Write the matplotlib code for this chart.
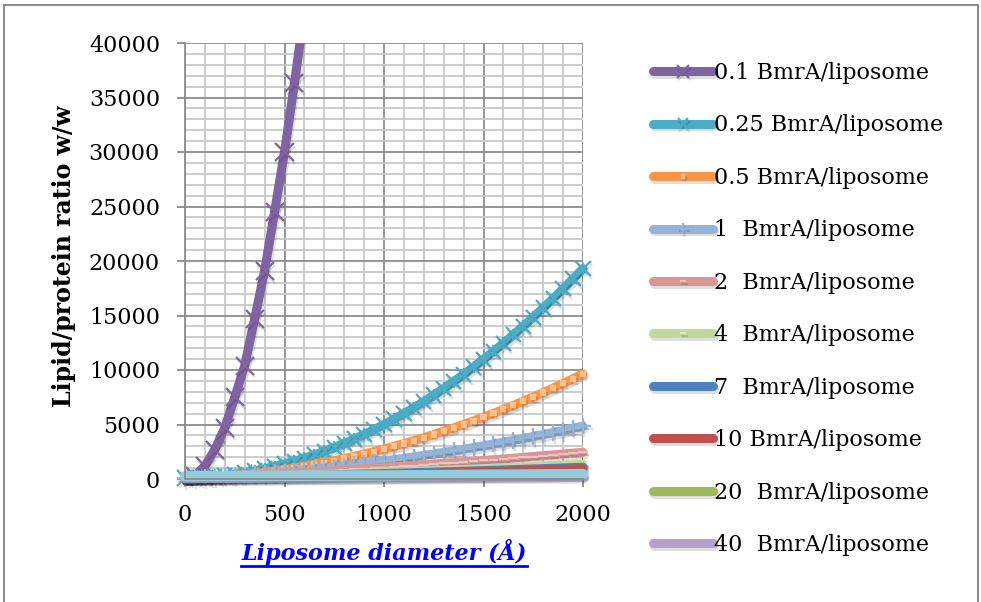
import matplotlib
matplotlib.use("Agg")
import matplotlib.pyplot as plt
import matplotlib.patheffects as pe
from matplotlib.lines import Line2D
from matplotlib.patches import Rectangle
from matplotlib.ticker import MultipleLocator

# Data
diameter = [0, 50, 100, 150, 200, 250, 300, 350, 400, 450, 500, 550, 600, 650, 700,
            750, 800, 850, 900, 950, 1000, 1050, 1100, 1150, 1200, 1250, 1300, 1350,
            1400, 1450, 1500, 1550, 1600, 1650, 1700, 1750, 1800, 1850, 1900, 1950, 2000]
diameter_short = [0, 50, 100, 150, 200, 250, 300, 350, 400, 450, 500, 550, 600]
diameter_coarse = [0, 250, 500, 750, 1000, 1250, 1500, 1750, 2000]

ratio_01 = [0, 300, 1200, 2700, 4700, 7500, 10400, 14700, 19100, 24500, 30000, 36300, 43000]
ratio_025 = [100, 122, 167, 236, 328, 444, 583, 746, 932, 1142, 1375, 1632, 1912, 2216,
             2543, 2894, 3268, 3666, 4087, 4532, 5000, 5492, 6007, 6546, 7108, 7694, 8303,
             8936, 9592, 10272, 10975, 11702, 12452, 13226, 14023, 14844, 15688, 16556,
             17447, 18362, 19300]
ratio_05 = [50, 85, 131, 187, 254, 331, 419, 517, 626, 745, 875, 1015, 1166, 1327, 1499,
            1681, 1874, 2077, 2291, 2515, 2750, 2995, 3251, 3517, 3794, 4081, 4379, 4687,
            5006, 5335, 5675, 6025, 6386, 6757, 7139, 7531, 7934, 8347, 8771, 9205, 9650]
ratio_1 = [50, 92, 138, 188, 242, 300, 362, 428, 498, 572, 650, 732, 818, 908, 1002,
           1100, 1202, 1308, 1418, 1532, 1650, 1772, 1898, 2028, 2162, 2300, 2442, 2588,
           2738, 2892, 3050, 3212, 3378, 3548, 3722, 3900, 4082, 4268, 4458, 4652, 4850]
ratio_2 = [50, 91, 132, 175, 218, 263, 308, 355, 402, 451, 500, 551, 602, 655, 708,
           763, 818, 875, 932, 991, 1050, 1111, 1172, 1235, 1298, 1363, 1428, 1495,
           1562, 1631, 1700, 1771, 1842, 1915, 1988, 2063, 2138, 2215, 2292, 2371, 2450]
ratio_4 = [50, 73, 96, 120, 144, 169, 194, 220, 246, 273, 300, 328, 356, 385, 414,
           444, 474, 505, 536, 568, 600, 633, 666, 700, 734, 769, 804, 840, 876, 913,
           950, 988, 1026, 1065, 1104, 1144, 1184, 1225, 1266, 1308, 1350]
ratio_7 = [50, 150, 260, 380, 500, 630, 770, 920, 1080]
ratio_10 = [40, 120, 210, 310, 410, 520, 640, 780, 930]
ratio_20 = [30, 70, 115, 160, 210, 260, 310, 360, 410]
ratio_40 = [20, 45, 75, 105, 140, 170, 200, 230, 260]
ratio_hidden = [250, 270, 290, 310, 330, 360, 390, 420, 450]

labels = ["0.1 BmrA/liposome", "0.25 BmrA/liposome", "0.5 BmrA/liposome",
          "1  BmrA/liposome", "2  BmrA/liposome", "4  BmrA/liposome",
          "7  BmrA/liposome", "10 BmrA/liposome", "20  BmrA/liposome",
          "40  BmrA/liposome"]

FONT = "DejaVu Serif"
FS = 16

fig = plt.figure(figsize=(9.81, 6.02), dpi=100)
ax = fig.add_axes([185 / 981, 1 - 479 / 602, 398 / 981, 436 / 602])

shadow = [pe.SimpleLineShadow(offset=(1, -2), alpha=0.13, shadow_color="k"), pe.Normal()]
LW = 6.5

# (x, y, color, marker, marker color, marker size)
series = [
    (diameter_short, ratio_01, "#8064A2", "x", "#8064A2", 13),
    (diameter, ratio_025, "#4BACC6", "x", "#4BACC6", 11),
    (diameter, ratio_05, "#F79646", "s", "#FAC090", 3),
    (diameter, ratio_1, "#95B3D7", "+", "#95B3D7", 12),
    (diameter, ratio_2, "#D99694", "_", "#EBC3C2", 7),
    (diameter, ratio_4, "#C3D69B", "_", "#DDEAC4", 7),
    (diameter_coarse, ratio_7, "#4F81BD", "None", "#4F81BD", 0),
    (diameter_coarse, ratio_10, "#C0504D", "None", "#C0504D", 0),
    (diameter_coarse, ratio_20, "#9BBB59", "None", "#C3D69B", 0),
    (diameter_coarse, ratio_40, "#B3A2C7", "None", "#B3A2C7", 0),
]

handles = []
for i, ((xs, ys, col, mk, mcol, ms), lab) in enumerate(zip(series, labels)):
    line, = ax.plot(xs, ys, color=col, lw=LW, marker=mk, markersize=ms,
                    markeredgecolor=mcol, markerfacecolor=mcol, markeredgewidth=1.6,
                    solid_capstyle="round", solid_joinstyle="round",
                    path_effects=shadow, label=lab, clip_on=(i == 0))
    handles.append(line)
    if lab.startswith("0.25"):
        # star marker = cross plus a short vertical bar
        ax.plot(xs, ys, ls="None", marker="|", markersize=8, markeredgewidth=1.6,
                color=col, clip_on=False)

ax.plot(diameter_coarse, ratio_hidden, color="#93CDDD", lw=LW + 1,
        solid_capstyle="round", path_effects=shadow, clip_on=False)

ax.set_xlim(0, 2000)
ax.set_ylim(0, 40000)
ax.xaxis.set_major_locator(MultipleLocator(500))
ax.xaxis.set_minor_locator(MultipleLocator(100))
ax.yaxis.set_major_locator(MultipleLocator(5000))
ax.yaxis.set_minor_locator(MultipleLocator(1000))
ax.grid(which="minor", color="#c8c8c8", lw=1.3)
ax.grid(which="major", color="#8c8c8c", lw=1.3)
ax.set_axisbelow(True)
for s in ["top", "right"]:
    ax.spines[s].set_visible(False)
for s in ["left", "bottom"]:
    ax.spines[s].set_color("#8c8c8c")
    ax.spines[s].set_linewidth(1.3)
ax.tick_params(which="major", length=6, width=1.3, color="#8c8c8c")
ax.tick_params(axis="y", pad=12)
ax.tick_params(axis="x", pad=12)
ax.tick_params(which="minor", length=0)
for t in ax.get_xticklabels() + ax.get_yticklabels():
    t.set_fontfamily(FONT)
    t.set_fontsize(FS)

fig.text(64 / 981, 1 - 256 / 602, "Lipid/protein ratio w/w", rotation=90,
         fontfamily=FONT, fontsize=FS + 1, fontweight="bold", ha="center", va="center")

xl = fig.text(384 / 981, 1 - 552 / 602, "Liposome diameter (Å)", color="#0000FF",
              fontfamily=FONT, fontsize=FS, fontweight="bold", fontstyle="italic",
              ha="center", va="center")
fig.canvas.draw()
bb = xl.get_window_extent()
fig.add_artist(Line2D([bb.x0 / 981, bb.x1 / 981], [(bb.y0 - 1) / 602] * 2,
                      color="#0000FF", lw=2))

# legend with 10 entries, thick line handles, no frame
leg = fig.legend(handles=handles, loc="upper left", bbox_to_anchor=(653 / 981, 1 - 62 / 602),
                 frameon=False, prop={"family": FONT, "size": FS}, handlelength=2.7,
                 handletextpad=0.05, labelspacing=1.37, borderaxespad=0, borderpad=0,
                 markerscale=0.7)
for lh in leg.get_lines():
    lh.set_linewidth(LW)

# outer chart border
fig.add_artist(Rectangle((4 / 981, -0.01), 974 / 981, 1 - 5 / 602 + 0.01,
                         fill=False, edgecolor="#8c8c8c", lw=1.5))

fig.savefig("out.png", dpi=100)
